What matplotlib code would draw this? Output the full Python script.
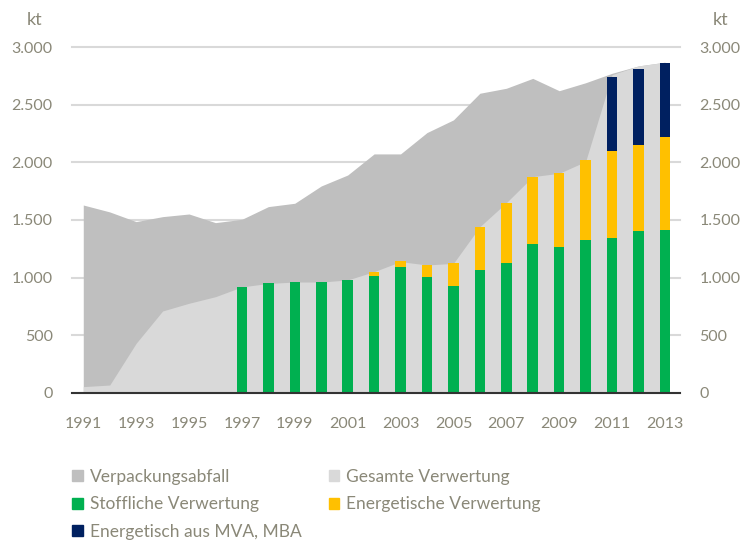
import numpy as np
import matplotlib.pyplot as plt
from matplotlib.patches import Patch

years = np.arange(1991, 2014)
verpackung = [1630, 1570, 1486, 1529, 1552, 1477, 1506, 1616, 1645, 1795, 1890, 2073,
              2073, 2258, 2368, 2599, 2642, 2728, 2621, 2690, 2772, 2836, 2868]
gesamt = [55, 69, 431, 711, 778, 835, 920, 950, 962, 962, 980, 1052,
          1139, 1110, 1124, 1442, 1650, 1876, 1905, 2007, 2760, 2836, 2868]

bar_years = np.arange(1997, 2014)
stofflich = [916, 950, 962, 959, 980, 1015, 1095, 1003, 928, 1067, 1130, 1292, 1269, 1327, 1344, 1405, 1416]
energetisch = [0, 0, 0, 0, 0, 32, 50, 104, 199, 375, 518, 578, 636, 690, 757, 743, 804]
mva_mba = [0, 0, 0, 0, 0, 0, 0, 0, 0, 0, 0, 0, 0, 0, 636, 658, 641]

c_verp = "#bfbfbf"
c_ges = "#d9d9d9"
c_green = "#00b050"
c_orange = "#ffc000"
c_navy = "#002060"
txt = "#8a8878"

plt.rcParams['font.family'] = ['Lato', 'DejaVu Sans']

fig = plt.figure(figsize=(7.44, 5.44), dpi=100)
ax = fig.add_axes([0.097, 0.2776, 0.817, 0.636])

ax.fill_between(years, 0, verpackung, color=c_verp, lw=0, zorder=1)
ax.fill_between(years, 0, gesamt, color=c_ges, lw=0, zorder=2)

bot2 = np.array(stofflich) + np.array(energetisch)
ax.bar(bar_years, stofflich, width=0.4, color=c_green, zorder=3)
ax.bar(bar_years, energetisch, width=0.4, bottom=stofflich, color=c_orange, zorder=3)
ax.bar(bar_years, mva_mba, width=0.4, bottom=bot2, color=c_navy, zorder=3)

ax.set_xlim(1990.58, 2013.57)
ax.set_ylim(0, 3000)
ax.set_yticks(np.arange(0, 3001, 500))
ax.set_yticklabels(["0", "500", "1.000", "1.500", "2.000", "2.500", "3.000"])
ax.set_xticks(np.arange(1991, 2014, 2))
ax.grid(axis='y', color="#d9d9d9", lw=1.5, zorder=0)
for gl in ax.get_ygridlines():
    gl.set_clip_on(False)
ax.set_axisbelow(True)
ax.axhline(0, color="#333333", lw=1.5, zorder=5, clip_on=False)

for s in ax.spines.values():
    s.set_visible(False)
ax.tick_params(axis='both', length=0, labelsize=11.5, colors=txt)
ax.tick_params(axis='y', labelright=True, pad=14)
ax.tick_params(axis='x', pad=17)

fig.text(0.047, 0.963, "kt", ha='center', va='center', fontsize=13, color=txt)
fig.text(0.968, 0.963, "kt", ha='center', va='center', fontsize=13, color=txt)

handles = [Patch(color=c_verp), Patch(color=c_green), Patch(color=c_navy),
           Patch(color=c_ges), Patch(color=c_orange)]
labels = ["Verpackungsabfall", "Stoffliche Verwertung", "Energetisch aus MVA, MBA",
          "Gesamte Verwertung", "Energetische Verwertung"]
leg = fig.legend(handles, labels, ncol=2, loc='upper left', bbox_to_anchor=(0.097, 0.138),
                 frameon=False, fontsize=12.5, handlelength=0.6, handleheight=0.6,
                 handletextpad=0.4, columnspacing=1.6, labelspacing=0.66,
                 borderaxespad=0, borderpad=0)
for t in leg.get_texts():
    t.set_color(txt)

fig.savefig("out.png", dpi=100)
